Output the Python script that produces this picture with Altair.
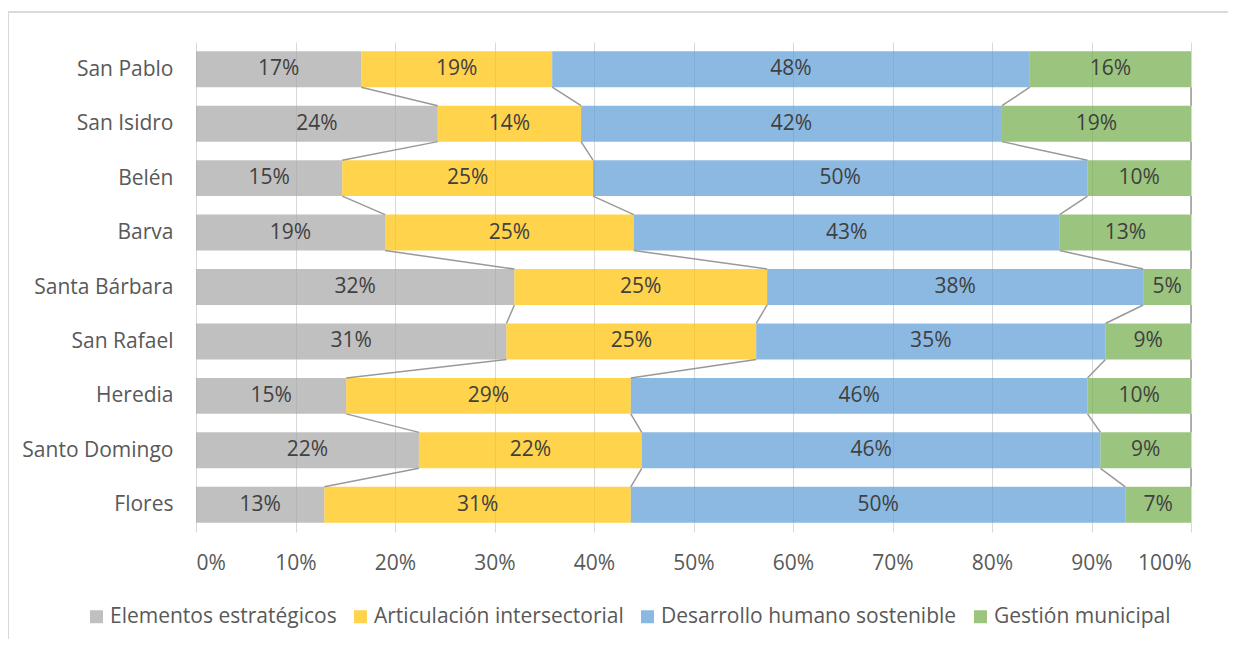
import altair as alt
import pandas as pd

categories = ["San Pablo", "San Isidro", "Belén", "Barva", "Santa Bárbara",
              "San Rafael", "Heredia", "Santo Domingo", "Flores"]
series = ["Elementos estratégicos", "Articulación intersectorial",
          "Desarrollo humano sostenible", "Gestión municipal"]
elementos = [16.6, 24.3, 14.7, 19.0, 32.0, 31.2, 15.1, 22.4, 12.9]
articulacion = [19.2, 14.4, 25.2, 25.0, 25.4, 25.1, 28.6, 22.4, 30.8]
desarrollo = [48.0, 42.3, 49.7, 42.8, 37.8, 35.1, 45.9, 46.1, 49.7]
gestion = [16.2, 19.0, 10.4, 13.2, 4.8, 8.6, 10.4, 9.1, 6.6]
colors = ["#A5A5A5", "#FFC000", "#5B9BD5", "#70AD47"]

FONT = "Open Sans"
FS = 21
HALF = 0.33  # half bar thickness in category units

values = [elementos, articulacion, desarrollo, gestion]
rows = []
cum = [[0.0] * (len(values) + 1) for _ in categories]
for i, cat in enumerate(categories):
    start = 0.0
    for k, s in enumerate(series):
        v = values[k][i]
        rows.append(dict(cat=cat, idx=i, serie=s, start=start, end=start + v,
                         mid=start + v / 2, label=f"{round(v)}%",
                         y0=i - HALF, y1=i + HALF))
        start += v
        cum[i][k + 1] = start
bars = pd.DataFrame(rows)

lines = []
for i in range(len(categories) - 1):
    for k in range(1, len(series) + 1):
        lines.append(dict(xa=cum[i][k], xb=cum[i + 1][k],
                          ya=i + HALF, yb=i + 1 - HALF))
lines = pd.DataFrame(lines)

label_expr = "[" + ",".join(f"'{c}'" for c in categories) + "][datum.value]"

xscale = alt.Scale(domain=[0, 100], nice=False)
yscale = alt.Scale(domain=[-0.5, len(categories) - 0.5], reverse=True, nice=False, zero=False)

base = alt.Chart(bars)

rects = base.mark_rect(opacity=0.7).encode(
    x=alt.X("start:Q", scale=xscale,
            axis=alt.Axis(values=list(range(0, 101, 10)), labelExpr="datum.value + '%'",
                          title=None, grid=True, gridColor="#D9D9D9", gridWidth=1,
                          domain=False, ticks=False, tickSize=0, labelPadding=20,
                          labelFont=FONT, labelFontSize=FS, labelColor="#595959")),
    x2="end:Q",
    y=alt.Y("y0:Q", scale=yscale,
            axis=alt.Axis(values=list(range(len(categories))), labelExpr=label_expr,
                          title=None, grid=False, domain=False, ticks=False, tickSize=0,
                          labelPadding=23, labelFont=FONT, labelFontSize=FS,
                          labelColor="#595959", labelLimit=300)),
    y2="y1:Q",
    color=alt.Color("serie:N", sort=series,
                    scale=alt.Scale(domain=series, range=colors),
                    legend=alt.Legend(title=None, orient="none", direction="horizontal",
                                      legendX=-110, legendY=564, symbolType="square",
                                      symbolSize=169, symbolStrokeWidth=0,
                                      symbolOpacity=0.7, columnPadding=13,
                                      labelFont=FONT, labelFontSize=FS, labelLimit=500,
                                      labelColor="#595959", labelOffset=3)),
)

text = base.mark_text(font=FONT, fontSize=FS, color="#404040").encode(
    x=alt.X("mid:Q", scale=xscale),
    y=alt.Y("idx:Q", scale=yscale),
    text="label:N",
)

connectors = alt.Chart(lines).mark_rule(color="#999999", strokeWidth=1.5).encode(
    x=alt.X("xa:Q", scale=xscale),
    x2="xb:Q",
    y=alt.Y("ya:Q", scale=yscale),
    y2="yb:Q",
)

frame_top = alt.Chart(bars).mark_rule(color="#D9D9D9", strokeWidth=1).encode(
    x=alt.value(-188), x2=alt.value(1032), y=alt.value(-30))
frame_left = alt.Chart(bars).mark_rule(color="#D9D9D9", strokeWidth=1).encode(
    x=alt.value(-187.5), y=alt.value(-30), y2=alt.value(597))

chart = alt.layer(rects, connectors, text, frame_top, frame_left).properties(
    width=995, height=490,
    autosize=alt.AutoSizeParams(type="none"),
    padding={"left": 188, "top": 34, "right": 37, "bottom": 107},
).configure_view(stroke=None)

chart.save("out.html", embed_options={"renderer": "svg", "actions": False})
